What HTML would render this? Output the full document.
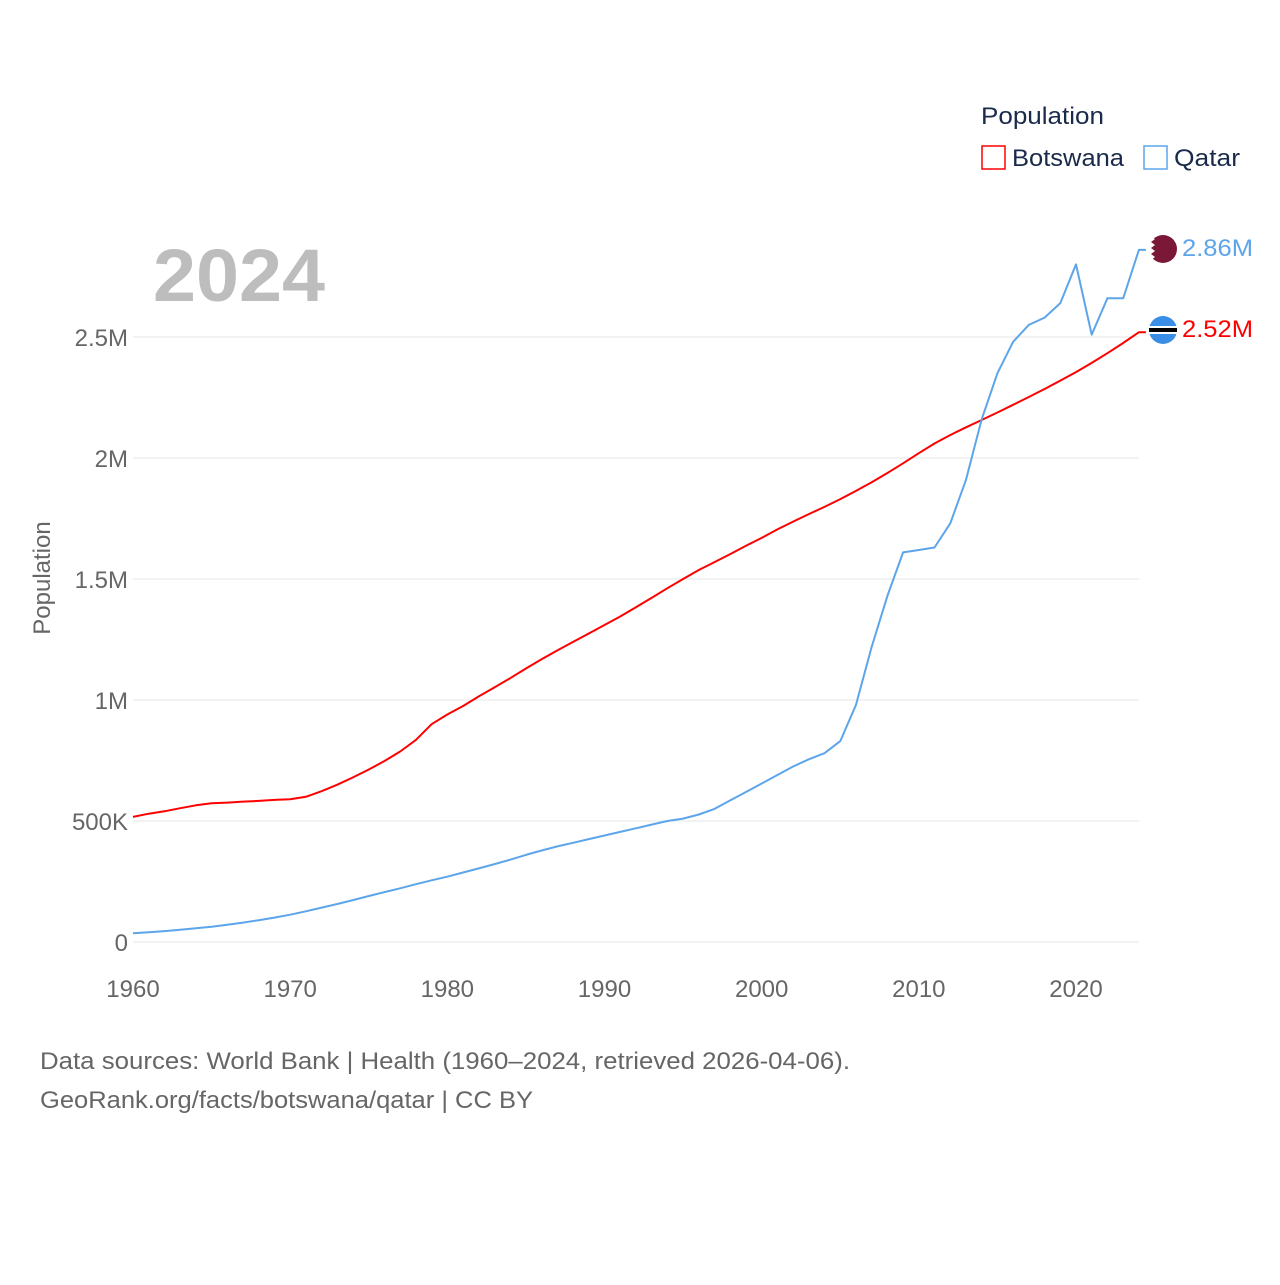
<!DOCTYPE html>
<html><head><meta charset="utf-8"><style>
body{margin:0;background:#fff;width:1280px;height:1280px;overflow:hidden;font-family:"Liberation Sans",sans-serif}
</style></head><body>
<svg width="1280" height="1280" font-family="Liberation Sans, sans-serif">
<g id="grid"></g>
<g id="yticks"></g>
<g id="xticks"></g>
<text x="153" y="301" font-size="74" font-weight="bold" fill="#bdbdbd" textLength="172" lengthAdjust="spacingAndGlyphs">2024</text>
<text transform="translate(50,578) rotate(-90)" font-size="24" fill="#666" text-anchor="middle">Population</text>
<g id="series"></g>
<text x="981" y="124" font-size="24" fill="#1a2a4a" textLength="123" lengthAdjust="spacingAndGlyphs">Population</text>
<g><rect x="982" y="146" width="23" height="23" fill="none" stroke="#f00" stroke-width="1.5"/><text x="1012" y="166" font-size="24" fill="#1a2a4a" textLength="112" lengthAdjust="spacingAndGlyphs">Botswana</text></g>
<g><rect x="1144" y="146" width="23" height="23" fill="none" stroke="#5da5ea" stroke-width="1.5"/><text x="1174" y="166" font-size="24" fill="#1a2a4a" textLength="66" lengthAdjust="spacingAndGlyphs">Qatar</text></g>
<g><circle cx="1163" cy="249" r="14" fill="#7b1838"/><path d="M1149,237 l6,2 -4,3 4,3 -4,3 4,3 -4,3 4,3 -4,3 -2,2 Z" fill="#fff"/></g>
<g><circle cx="1163" cy="330" r="14" fill="#3a8ee6"/><rect x="1149" y="326" width="28" height="8" fill="#fff"/><rect x="1149" y="328" width="28" height="4" fill="#000"/></g>
<text x="1182" y="256" font-size="24" fill="#5da5ea" textLength="71" lengthAdjust="spacingAndGlyphs">2.86M</text>
<text x="1182" y="337" font-size="24" fill="#f00" textLength="71" lengthAdjust="spacingAndGlyphs">2.52M</text>
<text x="40" y="1069" font-size="24" fill="#666" textLength="810" lengthAdjust="spacingAndGlyphs">Data sources: World Bank | Health (1960–2024, retrieved 2026-04-06).</text>
<text x="40" y="1108" font-size="24" fill="#666" textLength="493" lengthAdjust="spacingAndGlyphs">GeoRank.org/facts/botswana/qatar | CC BY</text>
</svg>
<script>
const years=[];for(let y=1960;y<=2024;y++)years.push(y);
const botswana=[517,530,540,553,565,573,576,580,583,587,590,600,623,650,680,713,748,787,835,900,940,975,1015,1052,1090,1130,1168,1205,1240,1275,1310,1345,1383,1422,1462,1500,1537,1570,1603,1637,1670,1705,1737,1768,1798,1830,1864,1900,1938,1978,2020,2060,2095,2127,2157,2188,2220,2252,2285,2320,2355,2393,2433,2475,2520];
const qatar=[36,40,45,51,57,63,71,80,90,101,113,127,142,157,173,190,206,222,239,255,270,287,304,322,340,360,378,395,410,425,440,455,470,485,500,510,527,550,585,620,655,690,725,755,780,830,980,1220,1430,1610,1620,1630,1730,1910,2160,2350,2480,2550,2580,2640,2800,2510,2660,2660,2860];
const yTicks=[0,500,1000,1500,2000,2500];
const yLabels=["0","500K","1M","1.5M","2M","2.5M"];
const xTicks=[1960,1970,1980,1990,2000,2010,2020];
const X=y=>133+(y-1960)*(1076-133)/60;
const Y=v=>942-v*(942-337)/2500;
const NS="http://www.w3.org/2000/svg";
function mk(tag,attrs,parent){const e=document.createElementNS(NS,tag);for(const k in attrs)e.setAttribute(k,attrs[k]);parent.appendChild(e);return e;}
const grid=document.getElementById('grid'),yt=document.getElementById('yticks'),xt=document.getElementById('xticks'),ser=document.getElementById('series');
yTicks.forEach((v,i)=>{
 const l=mk('line',{x1:133,x2:1139,y1:Y(v),y2:Y(v),stroke:'#e6e6e6','stroke-width':1},grid);
 
 
 const t=mk('text',{x:128,y:Y(v)+9,'font-size':24,fill:'#666','text-anchor':'end'},yt);t.textContent=yLabels[i];
 
 
});
xTicks.forEach(v=>{
 const t=mk('text',{x:X(v),y:997,'font-size':24,fill:'#666','text-anchor':'middle'},xt);t.textContent=v;
 
 
});
function line(data,color,name){
 let d=data.map((v,i)=>(i?'L':'M')+X(years[i]).toFixed(1)+','+Y(v).toFixed(1)).join(' ');
 d+=' L'+(X(2024)+7).toFixed(1)+','+Y(data[data.length-1]).toFixed(1);
 const p=mk('path',{d:d,fill:'none',stroke:color,'stroke-width':2,'stroke-linejoin':'round'},ser);
 
 
}
line(botswana,'#f00','botswana-line');
line(qatar,'#5da5ea','qatar-line');
</script>
</body></html>
